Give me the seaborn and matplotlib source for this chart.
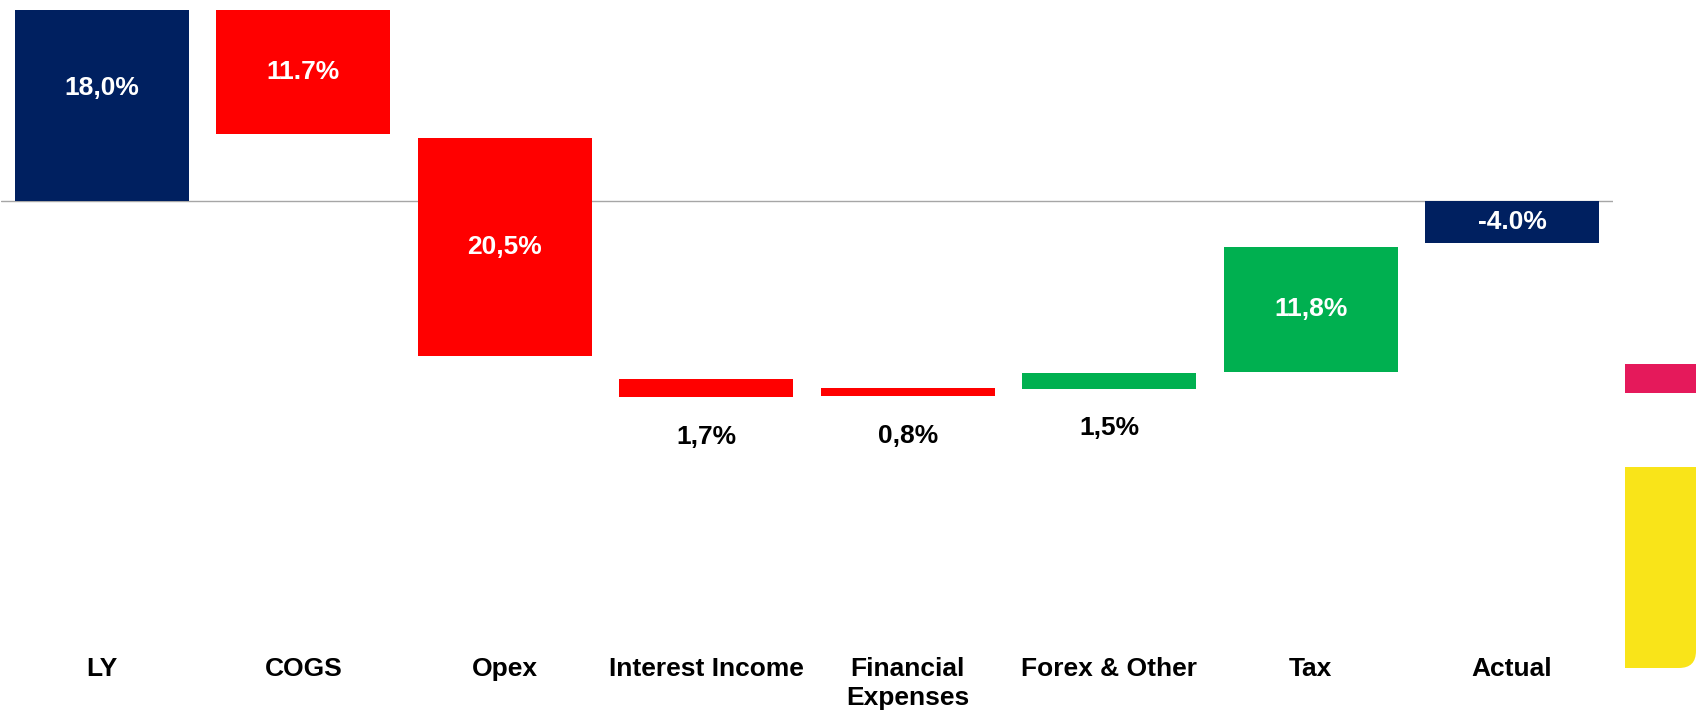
import matplotlib
matplotlib.use("Agg")
import matplotlib.pyplot as plt
from matplotlib.patches import Rectangle, FancyBboxPatch
import seaborn as sns

# Profit bridge: last year -> actual, in % points
categories = ["LY", "COGS", "Opex", "Interest Income", "Financial\nExpenses",
              "Forex & Other", "Tax", "Actual"]
step_values = [18.0, -11.7, -20.5, -1.7, -0.8, 1.5, 11.8, -4.0]
# level at which each floating step begins
step_start = [0.0, 18.0, 5.9, -16.8, -17.6, -17.7, -16.1, 0.0]
value_labels = ["18,0%", "11.7%", "20,5%", "1,7%", "0,8%", "1,5%", "11,8%", "-4.0%"]

NAVY = "#002060"
RED = "#FF0000"
GREEN = "#00B050"
bar_colors = [NAVY, RED, RED, RED, RED, GREEN, GREEN, NAVY]

sns.set_theme(style="white")
plt.rcParams["font.family"] = ["Liberation Sans", "DejaVu Sans"]

W, H, DPI = 1696, 713, 100
fig = plt.figure(figsize=(W / DPI, H / DPI), dpi=DPI)
fig.patch.set_facecolor("white")

# axes geometry in pixels
ax_left, ax_right = 1.3, 1612.7
ax_top, ax_bottom = 0.0, 640.0
ax = fig.add_axes([ax_left / W, (H - ax_bottom) / H,
                   (ax_right - ax_left) / W, (ax_bottom - ax_top) / H])

sns.barplot(x=categories, y=step_values, bottom=step_start, ax=ax,
            width=0.864, color=NAVY, saturation=1, errorbar=None,
            linewidth=0, zorder=3)
for patch, c in zip(ax.patches, bar_colors):
    patch.set_facecolor(c)
    patch.set_edgecolor("none")

ax.axhline(0, color="#A6A6A6", lw=1.0, zorder=2)

ax.set_xlim(-0.5, len(categories) - 0.5)
ax.set_ylim(-41.38, 18.94)
ax.set_yticks([])
ax.set_xlabel("")
ax.set_ylabel("")
for s in ax.spines.values():
    s.set_visible(False)
ax.tick_params(axis="x", length=0, pad=12.5)
ax.set_xticks(range(len(categories)))
ax.set_xticklabels(categories, fontsize=19, fontweight="bold", color="black",
                   linespacing=1.25, va="top")

# value labels: inside large bars, underneath thin ones
for i, (start, val, lab) in enumerate(zip(step_start, step_values, value_labels)):
    if abs(val) >= 3:
        frac = 0.59 if i == 0 else 0.5
        ax.text(i, start + val * frac, lab, ha="center", va="center",
                fontsize=19, fontweight="bold", color="white", zorder=4)
    else:
        low = min(start, start + val)
        ax.annotate(lab, xy=(i, low), xytext=(0, -28.5), textcoords="offset points",
                    ha="center", va="center", fontsize=19, fontweight="bold",
                    color="black", zorder=4)

# decorative accents along the right edge
def fx(px):
    return px / W

def fy(py):
    return (H - py) / H

PINK = "#E5195B"
YELLOW = "#F9E419"
fig.add_artist(Rectangle((fx(1625), fy(393)), fx(1696) - fx(1625), fy(364) - fy(393),
                         transform=fig.transFigure, facecolor=PINK, edgecolor="none"))
r = 17
fig.add_artist(FancyBboxPatch((1625, H - 668), 1696 - 1625, 668 - 467,
                              boxstyle=f"round,pad=0,rounding_size={r}",
                              transform=None, facecolor=YELLOW, edgecolor="none"))
fig.add_artist(Rectangle((1625, H - 668), 40, 668 - 467, transform=None,
                         facecolor=YELLOW, edgecolor="none"))
fig.add_artist(Rectangle((1625, H - 520), 1696 - 1625, 520 - 467, transform=None,
                         facecolor=YELLOW, edgecolor="none"))

fig.savefig("out.png", dpi=DPI, facecolor="white")
